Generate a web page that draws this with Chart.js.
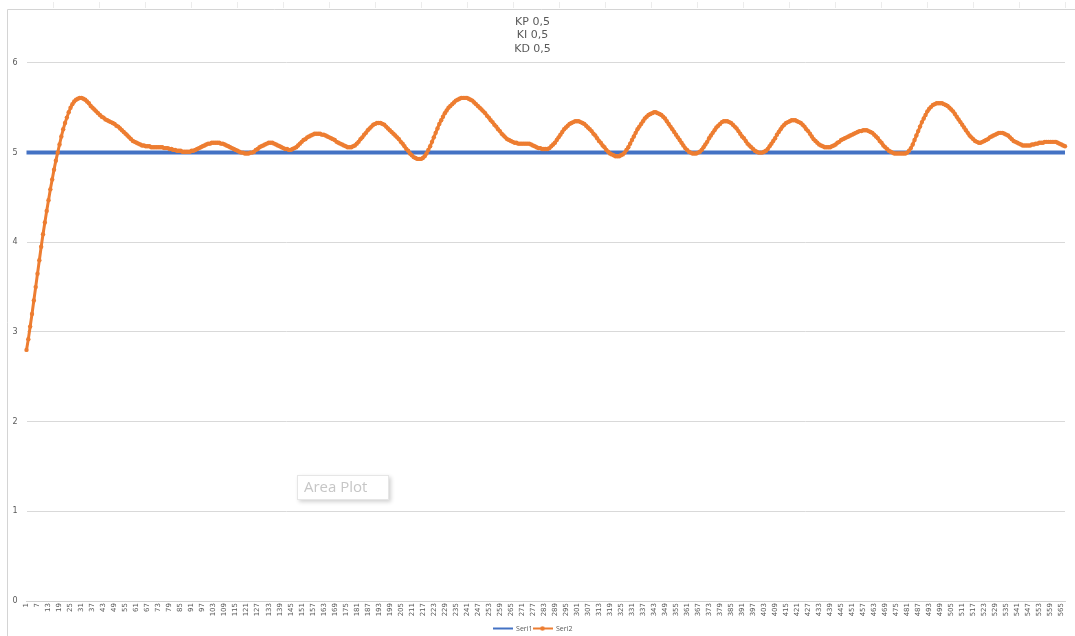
<!DOCTYPE html>
<html>
<head>
<meta charset="utf-8">
<script src="https://cdn.jsdelivr.net/npm/chart.js@4.4.1/dist/chart.umd.min.js"></script>
<style>
  html, body { margin: 0; padding: 0; background: #ffffff; overflow: hidden; }
  #wrap { width: 1075px; height: 636px; position: relative; }
</style>
</head>
<body>
<div id="wrap"><canvas id="c" width="1075" height="636"></canvas></div>
<script>
// Controller gains shown as the chart title
const titleLines = ['KP 0,5', 'KI 0,5', 'KD 0,5'];
const seriesNames = ['Seri1', 'Seri2'];
const yTicks = [0, 1, 2, 3, 4, 5, 6];

// Measured response (Seri2), one value per sample
const seri2 = [
  2.80,2.92,3.06,3.20,3.35,3.50,3.65,3.80,3.95,4.09,
  4.22,4.35,4.47,4.59,4.70,4.81,4.91,5.00,5.09,5.18,
  5.26,5.33,5.39,5.45,5.50,5.54,5.57,5.59,5.60,5.61,
  5.61,5.60,5.59,5.57,5.55,5.52,5.50,5.48,5.46,5.44,
  5.42,5.40,5.39,5.37,5.36,5.35,5.34,5.33,5.32,5.30,
  5.29,5.27,5.25,5.23,5.21,5.19,5.17,5.15,5.13,5.12,
  5.11,5.10,5.09,5.08,5.08,5.07,5.07,5.07,5.06,5.06,
  5.06,5.06,5.06,5.06,5.06,5.05,5.05,5.05,5.04,5.04,
  5.03,5.03,5.02,5.02,5.02,5.01,5.01,5.01,5.01,5.01,
  5.02,5.02,5.03,5.04,5.05,5.06,5.07,5.08,5.09,5.10,
  5.10,5.11,5.11,5.11,5.11,5.11,5.10,5.10,5.09,5.08,
  5.07,5.06,5.05,5.04,5.03,5.02,5.01,5.00,5.00,4.99,
  4.99,4.99,5.00,5.00,5.01,5.03,5.04,5.06,5.07,5.08,
  5.09,5.10,5.11,5.11,5.11,5.10,5.09,5.08,5.07,5.06,
  5.05,5.04,5.04,5.03,5.03,5.04,5.05,5.06,5.08,5.10,
  5.12,5.14,5.15,5.17,5.18,5.19,5.20,5.21,5.21,5.21,
  5.21,5.20,5.20,5.19,5.18,5.17,5.16,5.15,5.14,5.12,
  5.11,5.10,5.09,5.08,5.07,5.06,5.06,5.06,5.07,5.08,
  5.10,5.12,5.15,5.17,5.20,5.22,5.25,5.27,5.29,5.31,
  5.32,5.33,5.33,5.33,5.32,5.31,5.29,5.27,5.25,5.23,
  5.21,5.19,5.17,5.15,5.12,5.10,5.07,5.04,5.02,4.99,
  4.97,4.95,4.94,4.93,4.93,4.93,4.94,4.96,4.99,5.03,
  5.07,5.12,5.17,5.22,5.27,5.32,5.36,5.40,5.44,5.47,
  5.50,5.52,5.54,5.56,5.58,5.59,5.60,5.61,5.61,5.61,
  5.61,5.60,5.59,5.58,5.56,5.54,5.52,5.50,5.48,5.46,
  5.44,5.41,5.39,5.36,5.34,5.31,5.29,5.26,5.24,5.21,
  5.19,5.17,5.15,5.14,5.13,5.12,5.11,5.11,5.10,5.10,
  5.10,5.10,5.10,5.10,5.10,5.09,5.08,5.07,5.06,5.05,
  5.05,5.04,5.04,5.04,5.04,5.05,5.07,5.09,5.11,5.14,
  5.17,5.20,5.23,5.26,5.28,5.30,5.32,5.33,5.34,5.35,
  5.35,5.35,5.34,5.33,5.32,5.30,5.28,5.26,5.24,5.21,
  5.19,5.16,5.13,5.11,5.08,5.06,5.03,5.01,4.99,4.98,
  4.97,4.96,4.96,4.96,4.97,4.98,5.00,5.03,5.06,5.10,
  5.14,5.18,5.22,5.26,5.29,5.32,5.35,5.38,5.40,5.42,
  5.43,5.44,5.45,5.45,5.44,5.43,5.42,5.40,5.38,5.35,
  5.32,5.29,5.26,5.23,5.20,5.17,5.14,5.11,5.08,5.05,
  5.03,5.01,5.00,4.99,4.99,4.99,5.00,5.01,5.03,5.06,
  5.09,5.12,5.16,5.19,5.22,5.25,5.28,5.30,5.32,5.34,
  5.35,5.35,5.35,5.34,5.33,5.31,5.29,5.27,5.24,5.21,
  5.18,5.16,5.13,5.10,5.08,5.06,5.04,5.02,5.01,5.00,
  5.00,5.00,5.01,5.02,5.04,5.07,5.10,5.13,5.16,5.20,
  5.23,5.26,5.29,5.31,5.33,5.34,5.35,5.36,5.36,5.36,
  5.35,5.34,5.33,5.31,5.29,5.26,5.24,5.21,5.18,5.15,
  5.13,5.11,5.09,5.08,5.07,5.06,5.06,5.06,5.06,5.07,
  5.08,5.09,5.11,5.12,5.14,5.15,5.16,5.17,5.18,5.19,
  5.20,5.21,5.22,5.23,5.24,5.24,5.25,5.25,5.25,5.24,
  5.23,5.22,5.20,5.18,5.16,5.13,5.11,5.08,5.06,5.04,
  5.02,5.01,5.00,4.99,4.99,4.99,4.99,4.99,4.99,4.99,
  5.00,5.02,5.05,5.09,5.14,5.19,5.24,5.29,5.34,5.38,
  5.42,5.46,5.49,5.51,5.53,5.54,5.55,5.55,5.55,5.55,
  5.54,5.53,5.52,5.50,5.48,5.46,5.43,5.40,5.37,5.34,
  5.31,5.28,5.25,5.22,5.19,5.17,5.15,5.13,5.12,5.11,
  5.11,5.12,5.13,5.14,5.15,5.17,5.18,5.19,5.20,5.21,
  5.22,5.22,5.22,5.21,5.20,5.19,5.17,5.15,5.13,5.12,
  5.11,5.10,5.09,5.08,5.08,5.08,5.08,5.08,5.09,5.09,
  5.10,5.10,5.11,5.11,5.11,5.12,5.12,5.12,5.12,5.12,
  5.12,5.12,5.11,5.10,5.09,5.08,5.07
];

// Setpoint (Seri1), one value per sample
const seri1 = [
  5,5,5,5,5,5,5,5,5,5,5,5,5,5,5,5,5,5,5,5,5,
  5,5,5,5,5,5,5,5,5,5,5,5,5,5,5,5,5,5,5,5,5,
  5,5,5,5,5,5,5,5,5,5,5,5,5,5,5,5,5,5,5,5,5,
  5,5,5,5,5,5,5,5,5,5,5,5,5,5,5,5,5,5,5,5,5,
  5,5,5,5,5,5,5,5,5,5,5,5,5,5,5,5,5,5,5,5,5,
  5,5,5,5,5,5,5,5,5,5,5,5,5,5,5,5,5,5,5,5,5,
  5,5,5,5,5,5,5,5,5,5,5,5,5,5,5,5,5,5,5,5,5,
  5,5,5,5,5,5,5,5,5,5,5,5,5,5,5,5,5,5,5,5,5,
  5,5,5,5,5,5,5,5,5,5,5,5,5,5,5,5,5,5,5,5,5,
  5,5,5,5,5,5,5,5,5,5,5,5,5,5,5,5,5,5,5,5,5,
  5,5,5,5,5,5,5,5,5,5,5,5,5,5,5,5,5,5,5,5,5,
  5,5,5,5,5,5,5,5,5,5,5,5,5,5,5,5,5,5,5,5,5,
  5,5,5,5,5,5,5,5,5,5,5,5,5,5,5,5,5,5,5,5,5,
  5,5,5,5,5,5,5,5,5,5,5,5,5,5,5,5,5,5,5,5,5,
  5,5,5,5,5,5,5,5,5,5,5,5,5,5,5,5,5,5,5,5,5,
  5,5,5,5,5,5,5,5,5,5,5,5,5,5,5,5,5,5,5,5,5,
  5,5,5,5,5,5,5,5,5,5,5,5,5,5,5,5,5,5,5,5,5,
  5,5,5,5,5,5,5,5,5,5,5,5,5,5,5,5,5,5,5,5,5,
  5,5,5,5,5,5,5,5,5,5,5,5,5,5,5,5,5,5,5,5,5,
  5,5,5,5,5,5,5,5,5,5,5,5,5,5,5,5,5,5,5,5,5,
  5,5,5,5,5,5,5,5,5,5,5,5,5,5,5,5,5,5,5,5,5,
  5,5,5,5,5,5,5,5,5,5,5,5,5,5,5,5,5,5,5,5,5,
  5,5,5,5,5,5,5,5,5,5,5,5,5,5,5,5,5,5,5,5,5,
  5,5,5,5,5,5,5,5,5,5,5,5,5,5,5,5,5,5,5,5,5,
  5,5,5,5,5,5,5,5,5,5,5,5,5,5,5,5,5,5,5,5,5,
  5,5,5,5,5,5,5,5,5,5,5,5,5,5,5,5,5,5,5,5,5,
  5,5,5,5,5,5,5,5,5,5,5,5,5,5,5,5,5,5,5,5,5
];

// Sample numbers along the category axis (1, 2, 3, ...)
const categories = seri2.map((_, i) => String(i + 1));
// Every sixth sample number is printed
const labelStep = 6;

const BLUE = '#4472C4';
const ORANGE = '#ED7D31';
const TEXT = '#595959';
const GRID = '#d9d9d9';

// Small legend swatches: a line, and a line with a round marker
function swatch(color, width, withMarker) {
  const cv = document.createElement('canvas');
  cv.width = 20; cv.height = 7;
  const g = cv.getContext('2d');
  g.strokeStyle = color;
  g.lineWidth = width;
  g.beginPath(); g.moveTo(0, 3.5); g.lineTo(20, 3.5); g.stroke();
  if (withMarker) {
    g.fillStyle = color;
    g.beginPath(); g.arc(10, 3.5, 2.2, 0, Math.PI * 2); g.fill();
  }
  return cv;
}
const legendSwatches = [swatch(BLUE, 2, false), swatch(ORANGE, 2, true)];

// Worksheet frame around the chart object and a hover hint box
const framePlugin = {
  id: 'frame',
  afterLayout(chart) {
    // sit the legend row a little lower, close to the bottom edge
    chart.legend.top += 6;
    chart.legend.bottom += 6;
  },
  beforeDraw(chart) {
    const ctx = chart.ctx;
    ctx.save();
    ctx.fillStyle = '#ffffff';
    ctx.fillRect(0, 0, chart.width, chart.height);
    ctx.strokeStyle = '#ececec';
    ctx.lineWidth = 1;
    for (let x = 53.5; x < chart.width; x += 46) {
      ctx.beginPath(); ctx.moveTo(x, 2); ctx.lineTo(x, 8); ctx.stroke();
    }
    ctx.strokeStyle = '#d4d4d4';
    ctx.beginPath();
    ctx.moveTo(7.5, chart.height); ctx.lineTo(7.5, 9.5); ctx.lineTo(chart.width, 9.5);
    ctx.stroke();
    ctx.restore();
  },
  afterDraw(chart) {
    const ctx = chart.ctx;
    ctx.save();
    ctx.shadowColor = 'rgba(0,0,0,0.18)';
    ctx.shadowBlur = 4;
    ctx.shadowOffsetX = 2;
    ctx.shadowOffsetY = 2;
    ctx.fillStyle = '#ffffff';
    ctx.fillRect(297, 475, 92, 25);
    ctx.shadowColor = 'transparent';
    ctx.strokeStyle = '#e6e6e6';
    ctx.strokeRect(297.5, 475.5, 91, 24);
    ctx.fillStyle = '#c6c6c6';
    ctx.font = '15px "Open Sans"';
    ctx.textBaseline = 'middle';
    ctx.fillText('Area Plot', 304, 488);
    ctx.restore();
  }
};

new Chart(document.getElementById('c'), {
  type: 'line',
  data: {
    labels: categories,
    datasets: [
      {
        label: seriesNames[0],
        data: seri1,
        borderColor: BLUE,
        backgroundColor: BLUE,
        borderWidth: 4,
        pointRadius: 0,
        order: 1
      },
      {
        label: seriesNames[1],
        data: seri2,
        borderColor: ORANGE,
        backgroundColor: ORANGE,
        borderWidth: 3,
        pointRadius: 2.2,
        pointBorderWidth: 0,
        pointBackgroundColor: ORANGE,
        order: 0
      }
    ]
  },
  options: {
    responsive: false,
    animation: false,
    events: [],
    layout: { padding: { left: 0, right: 10, top: 0, bottom: 0 } },
    plugins: {
      title: {
        display: true,
        text: titleLines,
        color: TEXT,
        font: { family: 'DejaVu Sans', size: 11, weight: 'normal', lineHeight: 1.24 },
        padding: { top: 15, bottom: 7 }
      },
      legend: {
        position: 'bottom',
        labels: {
          usePointStyle: true,
          pointStyleWidth: 20,
          boxHeight: 7,
          padding: 0,
          color: TEXT,
          font: { family: 'Open Sans', size: 7 },
          sort: (a, b) => a.datasetIndex - b.datasetIndex,
          generateLabels(chart) {
            const items = Chart.defaults.plugins.legend.labels.generateLabels(chart);
            items.forEach((it) => { it.pointStyle = legendSwatches[it.datasetIndex]; });
            return items;
          }
        }
      },
      tooltip: { enabled: false }
    },
    scales: {
      x: {
        type: 'category',
        offset: false,
        grid: { display: false, drawTicks: false },
        border: { display: true, color: '#d0d0d0', width: 1 },
        ticks: {
          autoSkip: false,
          minRotation: 90,
          maxRotation: 90,
          padding: 2,
          color: TEXT,
          font: { family: 'DejaVu Sans', size: 7 },
          callback(value, index) {
            return index % labelStep === 0 ? this.getLabelForValue(value) : null;
          }
        },
        afterFit(scale) {
          scale.height = 35 - scale.chart.legend.height;
        }
      },
      y: {
        min: yTicks[0],
        max: yTicks[yTicks.length - 1],
        afterBuildTicks(scale) {
          scale.ticks = yTicks.map((v) => ({ value: v }));
        },
        grid: { color: GRID, drawTicks: false },
        border: { display: false },
        ticks: {
          padding: 9,
          color: TEXT,
          font: { family: 'DejaVu Sans', size: 8 }
        },
        afterFit(scale) {
          scale.width = 26.5;
        }
      }
    }
  },
  plugins: [framePlugin]
});
</script>
</body>
</html>
